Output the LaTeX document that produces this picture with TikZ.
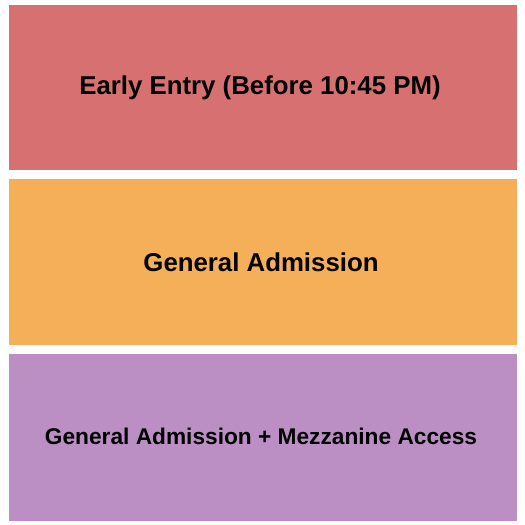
\documentclass[tikz,border=0pt]{standalone}
\usepackage{fontspec}
\setmainfont{Liberation Sans}
\usetikzlibrary{positioning}
\definecolor{earlyred}{RGB}{215,113,113}
\definecolor{gaorange}{RGB}{245,175,89}
\definecolor{mezzpurple}{RGB}{187,143,196}

\begin{document}
\begin{tikzpicture}[x=1pt,y=1pt,
  zone/.style={rectangle,inner sep=0pt,minimum width=508pt,minimum height=165.5pt},
  zonelabel/.style={inner sep=0pt,font=\bfseries\fontsize{25.8}{30}\selectfont}]
        \useasboundingbox (0,0) rectangle (525,525);
        \node[zone,fill=earlyred] (early) at (263,437.25) {};
        \node[zone,fill=gaorange] (general) at (263,263) {};
        \node[zone,fill=mezzpurple,minimum height=167pt] (mezzanine) at (263,87.5) {};
        \node[zonelabel] (earlytext) at ([xshift=-3pt]early.center)
        {Early Entry (Before 10:45 PM)};
        \node[zonelabel] (generaltext) at ([xshift=-2pt]general.center)
        {General Admission};
        \node[zonelabel,font=\bfseries\fontsize{22.7}{27}\selectfont]
        (mezzaninetext) at ([xshift=-2pt,yshift=1pt]mezzanine.center)
        {General Admission + Mezzanine Access};
    \end{tikzpicture}
\end{document}
